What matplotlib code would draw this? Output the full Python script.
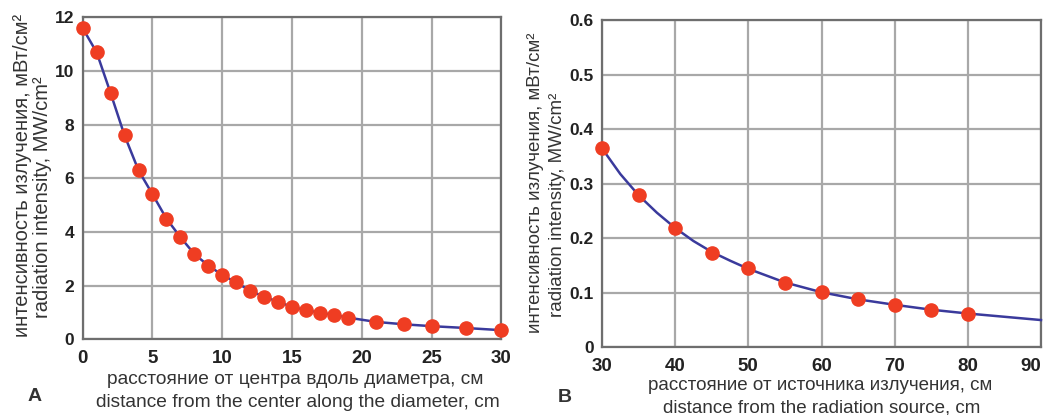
import numpy as np
import matplotlib
matplotlib.use("Agg")
import matplotlib.pyplot as plt

plt.rcParams['font.family'] = ['Liberation Sans', 'DejaVu Sans']

# panel A: distance from the centre along the diameter, cm
dist_a = [0, 1, 2, 3, 4, 5, 6, 7, 8, 9, 10, 11, 12, 13, 14, 15, 16, 17, 18, 19,
          21, 23, 25, 27.5, 30]
inten_a = [11.6, 10.7, 9.18, 7.6, 6.3, 5.41, 4.5, 3.81, 3.18, 2.75, 2.4, 2.12,
           1.81, 1.59, 1.4, 1.21, 1.09, 0.99, 0.91, 0.81, 0.65, 0.56, 0.49,
           0.42, 0.34]

# panel B: distance from the radiation source, cm
dist_b = [30, 35, 40, 45, 50, 55, 60, 65, 70, 75, 80]
inten_b = [0.365, 0.279, 0.219, 0.173, 0.145, 0.118, 0.101, 0.089, 0.078,
           0.068, 0.062]
# fitted curve as drawn (it runs on past the last point)
curve_x = [30, 32.5, 35, 37.5, 40, 42.5, 45, 47.5, 50, 55, 60, 65, 70, 75, 80, 85, 90]
curve_y = [0.365, 0.318, 0.279, 0.247, 0.219, 0.195, 0.175, 0.159, 0.144, 0.119,
           0.101, 0.088, 0.078, 0.069, 0.062, 0.056, 0.050]

ticks_a_x = [0, 5, 10, 15, 20, 25, 30]
ticks_a_y = [0, 2, 4, 6, 8, 10, 12]
ticks_b_x = [30, 40, 50, 60, 70, 80, 90]
ticks_b_y = [0, 0.1, 0.2, 0.3, 0.4, 0.5, 0.6]
labels_b_y = ['0', '0.1', '0.2', '0.3', '0.4', '0.5', '0.6']

ylab_ru = 'интенсивность излучения, мВт/см²'
ylab_en = 'radiation intensity, MW/cm²'

line_c = '#3a3a9c'
dot_c = '#ef3d22'
grid_c = '#a8a8a8'
spine_c = '#6e6e6e'
txt_c = '#333333'

W, H = 1045, 415
fig = plt.figure(figsize=(W / 100, H / 100), dpi=100)


def px_axes(x0, y0, x1, y1):
    return fig.add_axes([x0 / W, 1 - y1 / H, (x1 - x0) / W, (y1 - y0) / H])


def style(ax, xpad):
    ax.grid(True, color=grid_c, lw=1.6)
    ax.set_axisbelow(True)
    for s in ax.spines.values():
        s.set_color(spine_c)
        s.set_linewidth(1.6)
    ax.tick_params(axis='x', length=0, labelsize=13.5, pad=xpad)
    ax.tick_params(axis='y', length=0, labelsize=12.5, pad=6)
    for t in ax.get_xticklabels() + ax.get_yticklabels():
        t.set_fontweight('bold')
        t.set_color('#222222')


def ftext(x, y, s, **kw):
    return fig.text(x / W, 1 - y / H, s, ha='center', va='center', color=txt_c, **kw)


axA = px_axes(82.7, 17.5, 501.3, 339.3)
axA.plot(dist_a, inten_a, color=line_c, lw=1.8, zorder=3, clip_on=False)
axA.plot(dist_a, inten_a, 'o', color=dot_c, ms=9.5, zorder=4, clip_on=False)
axA.set_xlim(0, 30)
axA.set_ylim(0, 12)
axA.set_xticks(ticks_a_x)
axA.set_yticks(ticks_a_y)
style(axA, 7.5)

axB = px_axes(602, 20.3, 1041, 347.3)
axB.plot(curve_x, curve_y, color=line_c, lw=1.8, zorder=3, clip_on=False)
axB.plot(dist_b, inten_b, 'o', color=dot_c, ms=9.5, zorder=4, clip_on=False)
axB.set_xlim(30, 90)
axB.set_ylim(0, 0.6)
axB.set_xticks(ticks_b_x)
axB.set_yticks(ticks_b_y)
axB.set_yticklabels(labels_b_y)
style(axB, 7.5)
axB.get_xticklabels()[-1].set_horizontalalignment('right')

ftext(23, 175, ylab_ru, rotation=90, fontsize=14.5)
ftext(43, 197, ylab_en, rotation=90, fontsize=14.5)
ftext(535, 183, ylab_ru, rotation=90, fontsize=13.5)
ftext(557, 205, ylab_en, rotation=90, fontsize=13.5)

ftext(295, 380, 'расстояние от центра вдоль диаметра, см', fontsize=13.8)
ftext(298, 402, 'distance from the center along the diameter, cm', fontsize=13.8)
ftext(820, 385.5, 'расстояние от источника излучения, см', fontsize=13.5)
ftext(822, 408, 'distance from the radiation source, cm', fontsize=13.5)

ftext(35, 396, 'A', fontsize=14, fontweight='bold')
ftext(565, 397, 'B', fontsize=14, fontweight='bold')

fig.savefig('out.png', dpi=100)
